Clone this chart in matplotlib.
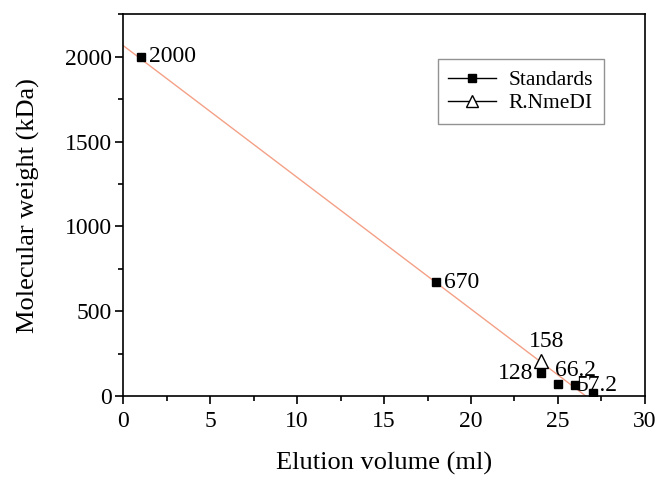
import numpy as np
import matplotlib
matplotlib.use("Agg")
import matplotlib.pyplot as plt
from matplotlib.lines import Line2D
from matplotlib.ticker import MultipleLocator

plt.rcParams['font.family'] = ['Liberation Serif', 'DejaVu Serif']

# standards (elution volume ml, MW kDa)
std_x = [1, 18, 24, 25, 26, 27]
std_y = [2000, 670, 134, 69, 65, 16]
# R.NmeDI
nme_x = [24]
nme_y = [208]
# linear fit
fit_b = 2065
fit_m = -77.6
# point labels
lab_txt = ['2000', '670', '158', '128', '66.2', '57.2']
lab_x = [1.45, 18.45, 24.35, 23.6, 26.0, 27.25]
lab_y = [2000, 670, 320, 135, 150, 62]
lab_ha = ['left', 'left', 'center', 'right', 'center', 'center']

fig = plt.figure(figsize=(6.6, 4.79), dpi=100)
ax = fig.add_axes([0.187, 0.173, 0.79, 0.797])

xf = np.array([0, -fit_b / fit_m])
ax.plot(xf, fit_b + fit_m * xf, color='#f4a086', lw=1.0, zorder=1)
ax.plot(std_x, std_y, ls='none', marker='s', ms=5.5, color='black', zorder=3)
ax.plot(nme_x, nme_y, ls='none', marker='^', ms=10, mfc='white', mec='black', mew=1.0, zorder=3)

for t, x, y, ha in zip(lab_txt, lab_x, lab_y, lab_ha):
    ax.text(x, y, t, ha=ha, va='center', fontsize=17, zorder=4)

ax.set_xlim(0, 30)
ax.set_ylim(0, 2250)
ax.xaxis.set_major_locator(MultipleLocator(5))
ax.xaxis.set_minor_locator(MultipleLocator(2.5))
ax.yaxis.set_major_locator(MultipleLocator(500))
ax.yaxis.set_minor_locator(MultipleLocator(250))
ax.tick_params(which='major', direction='out', length=6, width=1.2, labelsize=17)
ax.tick_params(axis='y', which='major', pad=2)
ax.tick_params(axis='x', which='major', pad=5)
ax.tick_params(which='minor', direction='out', length=3.5, width=1.2)
for s in ax.spines.values():
    s.set_linewidth(1.2)

ax.set_xlabel('Elution volume (ml)', fontsize=19, labelpad=14)
ax.set_ylabel('Molecular weight (kDa)', fontsize=19, labelpad=18)

handles = [
    Line2D([], [], color='black', lw=1, marker='s', ms=5.5),
    Line2D([], [], color='black', lw=1, marker='^', ms=9, mfc='white', mec='black'),
]
leg = ax.legend(handles, ['Standards', 'R.NmeDI'], loc='upper right',
                bbox_to_anchor=(0.938, 0.905), fontsize=15.5, fancybox=False,
                edgecolor='#777777', handlelength=2.2, borderpad=0.5,
                labelspacing=0.15, handletextpad=0.6, borderaxespad=0.4)
leg.get_frame().set_linewidth(1.0)

fig.savefig('out.png', dpi=100)
